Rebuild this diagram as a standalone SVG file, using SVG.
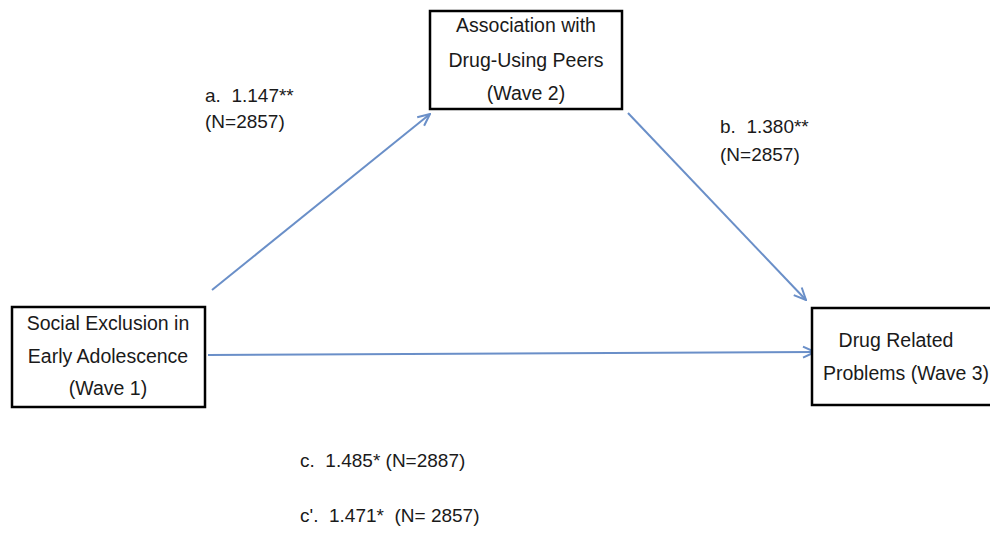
<svg xmlns="http://www.w3.org/2000/svg" width="990" height="537" viewBox="0 0 990 537">
<style>
  .box { fill: #ffffff; stroke: #000000; stroke-width: 2.5; }
  .t { font-family: "Liberation Sans", Arial, sans-serif; font-size: 19.5px; fill: #1a1a1a; }
  .c { text-anchor: middle; }
  .lbl { font-family: "Liberation Sans", Arial, sans-serif; font-size: 19px; fill: #1a1a1a; white-space: pre; }
  .conn { stroke: #6a8fc8; stroke-width: 2; fill: none; marker-end: url(#ah); }
</style>
<defs>
  <marker id="ah" viewBox="0 0 14 14" refX="13" refY="7" markerWidth="14" markerHeight="14" markerUnits="userSpaceOnUse" orient="auto">
    <path d="M1,1.5 L13,7 L1,12.5" fill="none" stroke="#6a8fc8" stroke-width="2"/>
  </marker>
</defs>
<rect width="990" height="537" fill="#ffffff"/>
<g id="connectors">
  <line class="conn" x1="212" y1="290" x2="430" y2="114"/>
  <line class="conn" x1="628" y1="113" x2="806" y2="300"/>
  <line class="conn" x1="208" y1="355" x2="815" y2="352"/>
</g>
<g id="node-peers">
  <rect class="box" x="430" y="11" width="192" height="98"/>
  <text class="t c" x="526" y="32">Association with</text>
  <text class="t c" x="526" y="67">Drug-Using Peers</text>
  <text class="t c" x="526" y="100">(Wave 2)</text>
</g>
<g id="node-exclusion">
  <rect class="box" x="12" y="307" width="193" height="100"/>
  <text class="t c" x="108" y="330">Social Exclusion in</text>
  <text class="t c" x="108" y="363">Early Adolescence</text>
  <text class="t c" x="108" y="395">(Wave 1)</text>
</g>
<g id="node-problems">
  <rect class="box" x="812" y="308" width="200" height="97"/>
  <text class="t c" x="896" y="347">Drug Related</text>
  <text class="t c" x="906" y="380">Problems (Wave 3)</text>
</g>
<g id="labels" xml:space="preserve">
  <text class="lbl" x="205" y="102">a.  1.147**</text>
  <text class="lbl" x="205" y="128">(N=2857)</text>
  <text class="lbl" x="720" y="133">b.  1.380**</text>
  <text class="lbl" x="720" y="161">(N=2857)</text>
  <text class="lbl" x="300" y="467">c.  1.485* (N=2887)</text>
  <text class="lbl" x="300" y="522">c'.  1.471*  (N= 2857)</text>
</g>
</svg>
